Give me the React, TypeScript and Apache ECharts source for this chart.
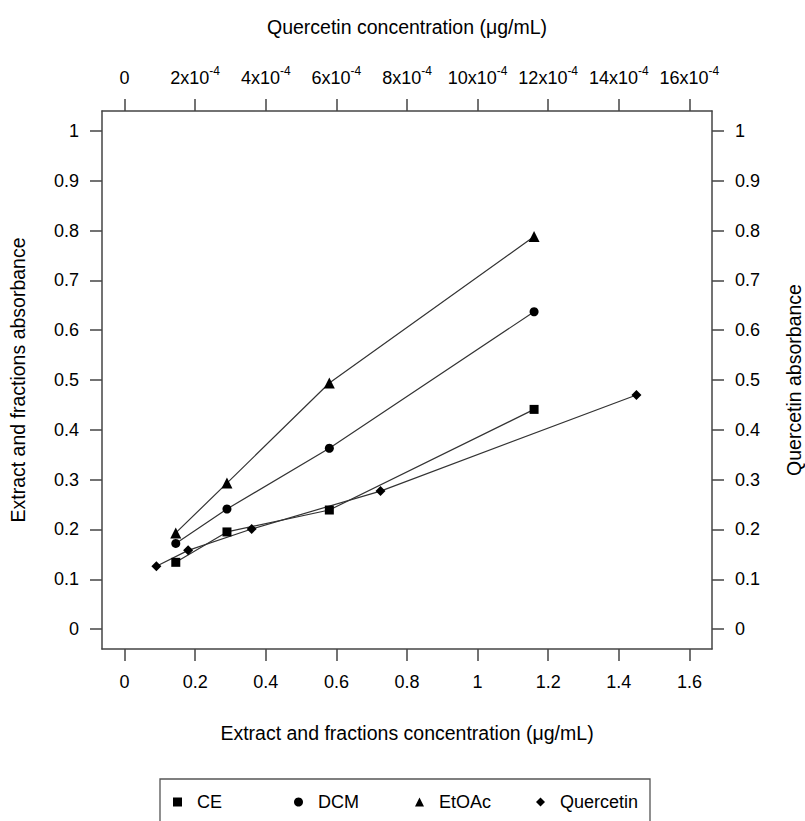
import React, { useEffect, useRef } from "react";
import * as echarts from "echarts";

// Extract and fractions concentration (µg/mL) — bottom axis
const extractConc = [0.145, 0.29, 0.58, 1.16];
const ceAbs = [0.134, 0.195, 0.239, 0.441];
const dcmAbs = [0.172, 0.241, 0.363, 0.637];
const etoacAbs = [0.193, 0.293, 0.494, 0.788];

// Quercetin concentration (x10^-4 µg/mL) — top axis; absorbance — right axis
const quercetinConc = [0.9, 1.8, 3.6, 7.25, 14.5];
const quercetinAbs = [0.126, 0.158, 0.201, 0.277, 0.47];

const bottomTicks = [0, 0.2, 0.4, 0.6, 0.8, 1, 1.2, 1.4, 1.6];
const topTicks = [0, 2, 4, 6, 8, 10, 12, 14, 16];
const yTicks = [0, 0.1, 0.2, 0.3, 0.4, 0.5, 0.6, 0.7, 0.8, 0.9, 1];

const seriesNames = ["CE", "DCM", "EtOAc", "Quercetin"];

const FONT = "'Liberation Sans', Arial, Helvetica, sans-serif";
const AX = "#444";
const LINE = "#333";

export default function App() {
  const ref = useRef<HTMLDivElement>(null);
  useEffect(() => {
    if (!ref.current) return;
    const chart = echarts.init(ref.current, undefined, { renderer: "svg" });
    const axisLine = { show: true, onZero: false, lineStyle: { color: AX, width: 1.5 } };
    const tick = (vals: number[]) => ({
      show: true,
      length: 12,
      lineStyle: { color: AX, width: 1.5 },
      customValues: vals,
    });
    const labelBase = { color: "#000", fontSize: 18, fontFamily: FONT };
    const nameStyle = { color: "#000", fontSize: 19.5, fontFamily: FONT };
    const pair = (xs: number[], ys: number[]) => xs.map((x, i) => [x, ys[i]]);
    const lineSeries = (name: string, symbol: string, size: number, data: number[][], xi = 0, yi = 0) => ({
      name,
      type: "line",
      xAxisIndex: xi,
      yAxisIndex: yi,
      data,
      symbol,
      symbolSize: size,
      showSymbol: true,
      lineStyle: { color: LINE, width: 1.2 },
      itemStyle: { color: "#000", borderWidth: 0 },
      emphasis: { disabled: true },
    });
    chart.setOption({
      animation: false,
      backgroundColor: "#fff",
      textStyle: { fontFamily: FONT },
      grid: { left: 102, right: 93, top: 111, bottom: 172, containLabel: false, outerBoundsMode: "none" },
      legend: {
        left: 160,
        top: 779,
        orient: "horizontal",
        data: [
          { name: "CE", icon: "rect" },
          { name: "DCM", icon: "circle" },
          { name: "EtOAc", icon: "triangle" },
          { name: "Quercetin", icon: "diamond" },
        ],
        itemWidth: 9,
        itemHeight: 9,
        itemGap: 17,
        padding: [13, 10, 40, 13],
        borderColor: "#555",
        borderWidth: 1.3,
        selectedMode: false,
        textStyle: { ...labelBase, width: 80, lineHeight: 20, padding: [0, 0, 0, 10] },
        itemStyle: { color: "#000" },
      },
      xAxis: [
        {
          type: "value",
          position: "bottom",
          min: -0.064,
          max: 1.664,
          axisLine,
          axisTick: tick(bottomTicks),
          splitLine: { show: false },
          axisLabel: { ...labelBase, margin: 24, customValues: bottomTicks, formatter: (v: number) => String(+v.toFixed(1)) },
          name: "Extract and fractions concentration (\u03bcg/mL)",
          nameLocation: "middle",
          nameGap: 74,
          nameTextStyle: nameStyle,
        },
        {
          type: "value",
          position: "top",
          min: -0.64,
          max: 16.64,
          axisLine,
          axisTick: tick(topTicks),
          splitLine: { show: false },
          axisLabel: {
            ...labelBase,
            margin: 20,
            customValues: topTicks,
            formatter: (v: number) => (v === 0 ? "{a|0}" : `{a|${Math.round(v)}x10}{s|-4}`),
            rich: {
              a: { fontSize: 18, lineHeight: 26, fontFamily: FONT, color: "#000" },
              s: { fontSize: 12, lineHeight: 12, verticalAlign: "top", fontFamily: FONT, color: "#000" },
            },
          },
          name: "Quercetin concentration (\u03bcg/mL)",
          nameLocation: "middle",
          nameGap: 74,
          nameTextStyle: nameStyle,
        },
      ],
      yAxis: [
        {
          type: "value",
          position: "left",
          min: -0.04,
          max: 1.04,
          axisLine,
          axisTick: tick(yTicks),
          splitLine: { show: false },
          axisLabel: { ...labelBase, margin: 23, customValues: yTicks, formatter: (v: number) => String(+v.toFixed(1)) },
          name: "Extract and fractions absorbance",
          nameLocation: "middle",
          nameGap: 74,
          nameTextStyle: nameStyle,
        },
        {
          type: "value",
          position: "right",
          min: -0.04,
          max: 1.04,
          axisLine,
          axisTick: tick(yTicks),
          splitLine: { show: false },
          axisLabel: { ...labelBase, margin: 23, customValues: yTicks, formatter: (v: number) => String(+v.toFixed(1)) },
          name: "Quercetin absorbance",
          nameLocation: "middle",
          nameGap: 72,
          nameRotate: 90,
          nameTextStyle: nameStyle,
        },
      ],
      series: [
        lineSeries(seriesNames[0], "rect", 9, pair(extractConc, ceAbs)),
        lineSeries(seriesNames[1], "circle", 9, pair(extractConc, dcmAbs)),
        lineSeries(seriesNames[2], "triangle", 11, pair(extractConc, etoacAbs)),
        lineSeries(seriesNames[3], "diamond", 10, pair(quercetinConc, quercetinAbs), 1, 1),
      ],
    });
    return () => chart.dispose();
  }, []);
  return <div ref={ref} style={{ width: 805, height: 821, position: "absolute", left: 0, top: 0 }} />;
}
